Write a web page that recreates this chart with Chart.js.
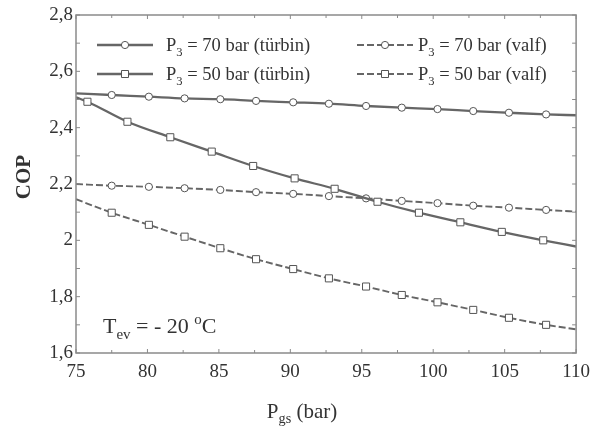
<!DOCTYPE html>
<html>
<head>
<meta charset="utf-8">
<script src="https://cdn.jsdelivr.net/npm/chart.js@4/dist/chart.umd.min.js"></script>
<style>
  html, body { margin: 0; padding: 0; background: #fff; }
  #wrap { width: 598px; height: 427px; }
</style>
</head>
<body>
<div id="wrap"><canvas id="copChart" width="598" height="427"></canvas></div>
<script>
// x-Werte (Pgs, bar) der Kurven, Endpunkte ohne Marker
const pgsCircles = [75, 77.5, 80.1, 82.6, 85.1, 87.6, 90.2, 92.7, 95.3, 97.8, 100.3, 102.8, 105.3, 107.9, 110];
const pgsTurbin50 = [75, 75.8, 78.6, 81.6, 84.5, 87.4, 90.3, 93.1, 96.1, 99.0, 101.9, 104.8, 107.7, 110];

// COP values
const copTurbin70 = [2.522, 2.516, 2.510, 2.504, 2.501, 2.495, 2.490, 2.485, 2.477, 2.471, 2.466, 2.459, 2.453, 2.447, 2.444];
const copTurbin50 = [2.508, 2.492, 2.421, 2.366, 2.315, 2.264, 2.220, 2.183, 2.137, 2.098, 2.064, 2.030, 2.000, 1.978];
const copValf70 = [2.200, 2.194, 2.190, 2.185, 2.179, 2.171, 2.165, 2.157, 2.149, 2.140, 2.132, 2.123, 2.116, 2.108, 2.102];
const copValf50 = [2.146, 2.098, 2.055, 2.013, 1.972, 1.933, 1.898, 1.865, 1.836, 1.806, 1.780, 1.753, 1.725, 1.700, 1.684];

const seriesLabels = ['P3 = 70 bar (türbin)', 'P3 = 50 bar (türbin)', 'P3 = 70 bar (valf)', 'P3 = 50 bar (valf)'];
const xTicks = [75, 80, 85, 90, 95, 100, 105, 110];
const yTicks = [1.6, 1.8, 2.0, 2.2, 2.4, 2.6, 2.8];

const LINE = '#666';
const EDGE = '#555';
const TXT = '#333';
const SERIF = '"Liberation Serif", "DejaVu Serif", serif';

const toPts = (xs, ys) => xs.map((x, i) => ({ x, y: ys[i] }));
// Marker nur an den inneren Punkten
const innerRadius = r => ctx => {
    const n = ctx.dataset.data.length;
    return (ctx.dataIndex === 0 || ctx.dataIndex === n - 1) ? 0 : r;
};

const makeSet = (label, xs, ys, style, dashed) => ({
    label,
    data: toPts(xs, ys),
    borderColor: LINE,
    borderWidth: dashed ? 1.9 : 2.3,
    borderDash: dashed ? [7, 3] : [],
    pointStyle: style,
    pointRadius: innerRadius(style === 'rect' ? 5 : 3.6),
    pointBackgroundColor: '#fff',
    pointBorderColor: EDGE,
    pointBorderWidth: 1,
    cubicInterpolationMode: 'monotone',
    fill: false
});

// rich text: [text, 'sub'|'sup'|''] pieces
function richWidth(ctx, parts, size, weight) {
    let w = 0;
    parts.forEach(([t, m]) => {
        const s = m ? size * 0.68 : size;
        ctx.font = `${weight} ${s}px ${SERIF}`;
        w += ctx.measureText(t).width;
    });
    return w;
}
function drawRich(ctx, parts, x, y, size, weight = 'normal') {
    ctx.textAlign = 'left';
    ctx.textBaseline = 'alphabetic';
    parts.forEach(([t, m]) => {
        const s = m ? size * 0.68 : size;
        const dy = m === 'sub' ? size * 0.25 : (m === 'sup' ? -size * 0.42 : 0);
        ctx.font = `${weight} ${s}px ${SERIF}`;
        ctx.fillText(t, x, y + dy);
        x += ctx.measureText(t).width;
    });
}

function drawMarker(ctx, style, x, y) {
    ctx.save();
    ctx.setLineDash([]);
    ctx.fillStyle = '#fff';
    ctx.strokeStyle = EDGE;
    ctx.lineWidth = 1;
    ctx.beginPath();
    if (style === 'rect') ctx.rect(x - 3.5, y - 3.5, 7, 7);
    else ctx.arc(x, y, 3.6, 0, Math.PI * 2);
    ctx.fill();
    ctx.stroke();
    ctx.restore();
}

const framePlugin = {
    id: 'frame',
    afterDraw(chart) {
        const { ctx, chartArea: a, scales: { x, y } } = chart;
        ctx.save();
        // box
        ctx.strokeStyle = '#8a8a8a';
        ctx.lineWidth = 1.5;
        ctx.strokeRect(a.left, a.top, a.right - a.left, a.bottom - a.top);

        // inward ticks on all four sides
        ctx.lineWidth = 1;
        ctx.beginPath();
        for (let v = 75; v <= 110.001; v += 2.5) {
            const px = x.getPixelForValue(v);
            const len = (Math.round(v) % 5 === 0) ? 4 : 3;
            ctx.moveTo(px, a.bottom); ctx.lineTo(px, a.bottom - len);
            ctx.moveTo(px, a.top); ctx.lineTo(px, a.top + len);
        }
        for (let v = 1.6; v <= 2.801; v += 0.1) {
            const py = y.getPixelForValue(v);
            ctx.moveTo(a.left, py); ctx.lineTo(a.left + 4, py);
            ctx.moveTo(a.right, py); ctx.lineTo(a.right - 4, py);
        }
        ctx.stroke();

        ctx.fillStyle = TXT;

        // legend, two columns
        chart.data.datasets.forEach((ds, i) => {
            const col = i < 2 ? 0 : 1;
            const row = i % 2;
            const x0 = a.left + (col === 0 ? 21 : 281);
            const yc = a.top + 30 + row * 29;
            ctx.strokeStyle = LINE;
            ctx.lineWidth = ds.borderWidth;
            ctx.setLineDash(ds.borderDash);
            ctx.beginPath();
            ctx.moveTo(x0, yc); ctx.lineTo(x0 + 56, yc);
            ctx.stroke();
            ctx.setLineDash([]);
            drawMarker(ctx, ds.pointStyle, x0 + 28, yc);
            const lbl = ds.label;
            drawRich(ctx, [[lbl.slice(0, 1), ''], [lbl.slice(1, 2), 'sub'], [lbl.slice(2), '']],
                x0 + (col === 0 ? 69 : 61), yc + 6, 18.5);
        });

        // T_ev annotation
        drawRich(ctx, [['T', ''], ['ev', 'sub'], [' = - 20 ', ''], ['o', 'sup'], ['C', '']],
            a.left + 27, a.bottom - 20, 22);

        // x title
        const xt = [['P', ''], ['gs', 'sub'], [' (bar)', '']];
        const w = richWidth(ctx, xt, 21, 'normal');
        drawRich(ctx, xt, (a.left + a.right) / 2 - 24 - w / 2, 418, 21);

        // y title
        ctx.save();
        ctx.translate(25, (a.top + a.bottom) / 2 - 7);
        ctx.rotate(-Math.PI / 2);
        ctx.font = `bold 21px ${SERIF}`;
        ctx.textAlign = 'center';
        ctx.textBaseline = 'middle';
        ctx.fillText('COP', 0, 0);
        ctx.restore();

        ctx.restore();
    }
};

new Chart(document.getElementById('copChart'), {
    type: 'line',
    data: {
        datasets: [
            makeSet(seriesLabels[0], pgsCircles, copTurbin70, 'circle', false),
            makeSet(seriesLabels[1], pgsTurbin50, copTurbin50, 'rect', false),
            makeSet(seriesLabels[2], pgsCircles, copValf70, 'circle', true),
            makeSet(seriesLabels[3], pgsCircles, copValf50, 'rect', true)
        ]
    },
    options: {
        responsive: false,
        animation: false,
        layout: { padding: { left: 0, top: 15, right: 21, bottom: 0 } },
        plugins: {
            legend: { display: false },
            tooltip: { enabled: false }
        },
        scales: {
            x: {
                type: 'linear',
                min: 75,
                max: 110,
                afterBuildTicks: s => { s.ticks = xTicks.map(v => ({ value: v })); },
                afterFit: s => { s.height = 74; },
                grid: { display: false, drawTicks: false },
                border: { display: false },
                ticks: {
                    padding: 8,
                    color: TXT,
                    maxRotation: 0,
                    font: { family: SERIF, size: 19 }
                }
            },
            y: {
                min: 1.6,
                max: 2.8,
                afterBuildTicks: s => { s.ticks = yTicks.map(v => ({ value: v })); },
                afterFit: s => { s.width = 76; },
                grid: { display: false, drawTicks: false },
                border: { display: false },
                ticks: {
                    padding: 3,
                    color: TXT,
                    font: { family: SERIF, size: 19 },
                    callback: v => Math.abs(v - 2) < 1e-9 ? '2' : v.toFixed(1).replace('.', ',')
                }
            }
        }
    },
    plugins: [framePlugin]
});
</script>
</body>
</html>
